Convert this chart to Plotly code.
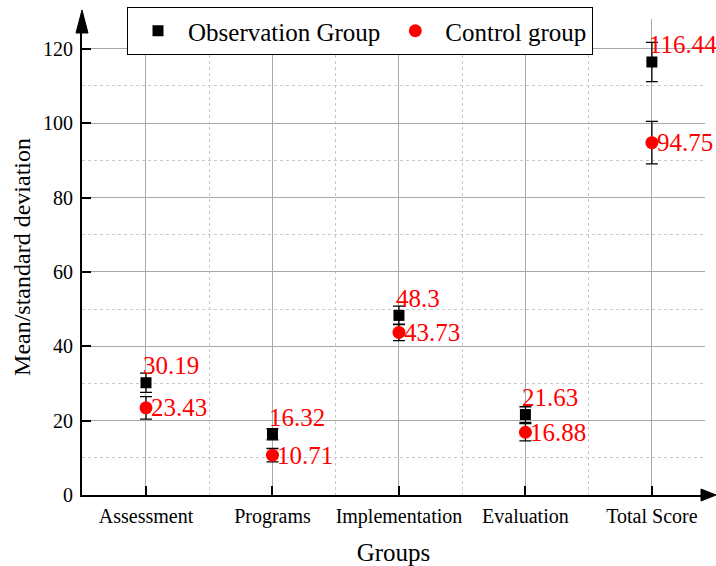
import plotly.graph_objects as go

categories = ["Assessment", "Programs", "Implementation", "Evaluation", "Total Score"]
obs_mean = [30.19, 16.32, 48.3, 21.63, 116.44]
obs_sd = [2.6, 1.5, 2.5, 2.1, 5.3]
ctl_mean = [23.43, 10.71, 43.73, 16.88, 94.75]
ctl_sd = [3.0, 1.8, 2.2, 2.3, 5.7]
obs_labels = ["30.19", "16.32", "48.3", "21.63", "116.44"]
ctl_labels = ["23.43", "10.71", "43.73", "16.88", "94.75"]

xs = list(range(len(categories)))
FONT = "Liberation Serif"

fig = go.Figure()
fig.add_trace(go.Scatter(
    x=xs, y=obs_mean, mode="markers", name="Observation Group",
    marker=dict(symbol="square", size=11, color="black"),
    error_y=dict(type="data", array=obs_sd, visible=True, color="black", thickness=1.3, width=6),
))
fig.add_trace(go.Scatter(
    x=xs, y=ctl_mean, mode="markers", name="Control group",
    marker=dict(symbol="circle", size=13, color="red"),
    error_y=dict(type="data", array=ctl_sd, visible=True, color="black", thickness=1.3, width=6),
))

for x, y, t in zip(xs, obs_mean, obs_labels):
    fig.add_annotation(x=x, y=y, text=t, showarrow=False, xanchor="left", yanchor="middle",
                       xshift=-5, yshift=17, font=dict(family=FONT, size=25, color="red"))
for x, y, t in zip(xs, ctl_mean, ctl_labels):
    fig.add_annotation(x=x, y=y, text=t, showarrow=False, xanchor="left", yanchor="middle",
                       xshift=3, yshift=0, font=dict(family=FONT, size=25, color="red"))

# axis arrows
W, H = 623.0, 476.0
fig.add_shape(type="path", xref="paper", yref="paper",
              path=f"M {-6/W} {(476-14)/H} L {6/W} {(476-14)/H} L 0 {(476+9)/H} Z",
              fillcolor="black", line=dict(color="black", width=1))
fig.add_shape(type="path", xref="paper", yref="paper",
              path=f"M {(623-4)/W} {6/H} L {(623-4)/W} {-6/H} L {(634)/W} 0 Z",
              fillcolor="black", line=dict(color="black", width=1))

fig.update_layout(
    width=716, height=566,
    margin=dict(l=82, r=11, t=19, b=71, autoexpand=False),
    plot_bgcolor="white", paper_bgcolor="white",
    font=dict(family=FONT, color="black"),
    showlegend=True,
    legend=dict(orientation="h", x=(127 - 82) / W, y=(476 + 12) / H, xanchor="left", yanchor="top",
                bordercolor="black", borderwidth=1, bgcolor="white",
                font=dict(family=FONT, size=25), itemwidth=50, tracegroupgap=0),
    xaxis=dict(
        range=[-0.506, 4.42], tickmode="array", tickvals=xs, ticktext=categories,
        automargin=False,
        showline=True, linecolor="black", linewidth=2,
        ticks="inside", ticklen=9, tickwidth=2, tickcolor="black",
        showgrid=True, gridcolor="#a8a8a8", gridwidth=1,
        minor=dict(tick0=0.5, dtick=1, showgrid=True, gridcolor="#c8c8c8", griddash="dot", ticks=""),
        tickfont=dict(family=FONT, size=20), ticklabelstandoff=2,
        title=dict(text="Groups", font=dict(family=FONT, size=25), standoff=18),
        zeroline=False,
    ),
    yaxis=dict(
        range=[0, 128], tickvals=[0, 20, 40, 60, 80, 100, 120],
        automargin=False,
        showline=True, linecolor="black", linewidth=2,
        ticks="inside", ticklen=9, tickwidth=2, tickcolor="black",
        showgrid=True, gridcolor="#a8a8a8", gridwidth=1,
        minor=dict(tick0=10, dtick=20, showgrid=True, gridcolor="#c8c8c8", griddash="dot", ticks=""),
        tickfont=dict(family=FONT, size=20), ticklabelstandoff=3,
        title=dict(text="Mean/standard deviation", font=dict(family=FONT, size=24), standoff=6),
        zeroline=False,
    ),
)

fig.write_html("out.html", config={"displayModeBar": False},
               post_script="document.body.style.margin='0';")
